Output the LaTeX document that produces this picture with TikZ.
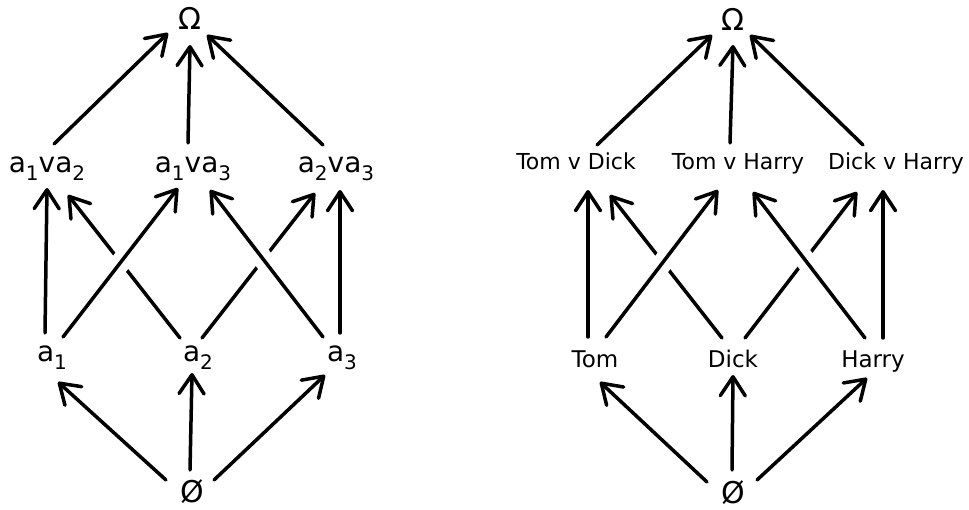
\documentclass[tikz,border=0pt]{standalone}
\usepackage{fontspec}
\setmainfont{DejaVu Sans}
\usetikzlibrary{arrows.meta,calc}
\newcommand\lowdig[1]{\raisebox{-8pt}{\fontsize{20}{20}\selectfont #1}}
\begin{document}
\begin{tikzpicture}[x=1pt,y=-1pt,
  lab/.style={anchor=base,inner sep=0pt,font=\fontsize{28}{30}\selectfont},
  labr/.style={anchor=base,inner sep=0pt,font=\fontsize{22}{24}\selectfont},
  labb/.style={anchor=base,inner sep=0pt,font=\fontsize{23}{26}\selectfont},
  top/.style={anchor=base,inner sep=0pt,font=\fontsize{30}{32}\selectfont},
  arr/.style={line width=3.5pt,line cap=round,
    -{Straight Barb[length=19pt,width=25pt,line cap=round,line join=round]}},
  over/.style={preaction={draw=white,line width=20pt,arrows=-,line cap=butt,
    shorten <=25pt,shorten >=32pt}}]
\path[use as bounding box] (0,0) rectangle (969,510);

% ---------- left lattice ----------
\node[top] (Om) at (190,30) {Ω};
\node[lab] (A12) at (47,173) {a\lowdig{1}va\lowdig{2}};
\node[lab] (A13) at (193,173) {a\lowdig{1}va\lowdig{3}};
\node[lab] (A23) at (336,173) {a\lowdig{2}va\lowdig{3}};
\node[lab] (A1) at (52,362) {a\lowdig{1}};
\node[lab] (A2) at (198,362) {a\lowdig{2}};
\node[lab] (A3) at (342,362) {a\lowdig{3}};
\node[top] (E) at (192,502) {Ø};

\draw[arr] ($(A12.base)+(7,-29)$) -- ($(Om.base)+(-22,3)$);
\draw[arr] ($(A13.base)+(-5,-30)$) -- ($(Om.base)+(0,15)$);
\draw[arr] ($(A23.base)+(-13,-28)$) -- ($(Om.base)+(17,5)$);

\draw[arr] ($(A2.base)+(-18,-24)$) -- ($(A12.base)+(21,22)$);
\draw[arr] ($(A2.base)+(4,-24)$) -- ($(A23.base)+(-21,20)$);
\draw[arr] ($(A1.base)+(-7,-29)$) -- ($(A12.base)+(0,15)$);
\draw[arr] ($(A3.base)+(-2,-29)$) -- ($(A23.base)+(4,17)$);
\draw[arr,over] ($(A1.base)+(11,-25)$) -- ($(A13.base)+(-15,15)$);
\draw[arr,over] ($(A3.base)+(-19,-25)$) -- ($(A13.base)+(17,17)$);

\draw[arr] ($(E.base)+(-26,-22)$) -- ($(A1.base)+(6,20)$);
\draw[arr] ($(E.base)+(-2,-32)$) -- ($(A2.base)+(-6,11)$);
\draw[arr] ($(E.base)+(22,-22)$) -- ($(A3.base)+(-17,13)$);

% ---------- right lattice ----------
\node[top] (Om2) at (733,31) {Ω};
\node[labr] (TD) at (576,170) {Tom v Dick};
\node[labr] (TH) at (738,170) {Tom v Harry};
\node[labr] (DH) at (896,170) {Dick v Harry};
\node[labb] (T) at (595,368) {Tom};
\node[labb] (D) at (733,368) {Dick};
\node[labb] (H) at (873,368) {Harry};
\node[top] (E2) at (733,503) {Ø};

\draw[arr] ($(TD.base)+(21,-25)$) -- ($(Om2.base)+(-21,4)$);
\draw[arr] ($(TH.base)+(-8,-27)$) -- ($(Om2.base)+(0,14)$);
\draw[arr] ($(DH.base)+(-33,-25)$) -- ($(Om2.base)+(17,4)$);

\draw[arr] ($(D.base)+(-11,-30)$) -- ($(TD.base)+(34,25)$);
\draw[arr] ($(D.base)+(12,-30)$) -- ($(DH.base)+(-39,22)$);
\draw[arr] ($(T.base)+(-7,-31)$) -- ($(TD.base)+(12,20)$);
\draw[arr] ($(H.base)+(10,-30)$) -- ($(DH.base)+(-13,20)$);
\draw[arr,over] ($(T.base)+(11,-31)$) -- ($(TH.base)+(-20,20)$);
\draw[arr,over] ($(H.base)+(-8,-30)$) -- ($(TH.base)+(15,22)$);

\draw[arr] ($(E2.base)+(-26,-21)$) -- ($(T.base)+(5,14)$);
\draw[arr] ($(E2.base)+(-1,-33)$) -- ($(D.base)+(0,7)$);
\draw[arr] ($(E2.base)+(24,-23)$) -- ($(H.base)+(-6,10)$);
\end{tikzpicture}
\end{document}
